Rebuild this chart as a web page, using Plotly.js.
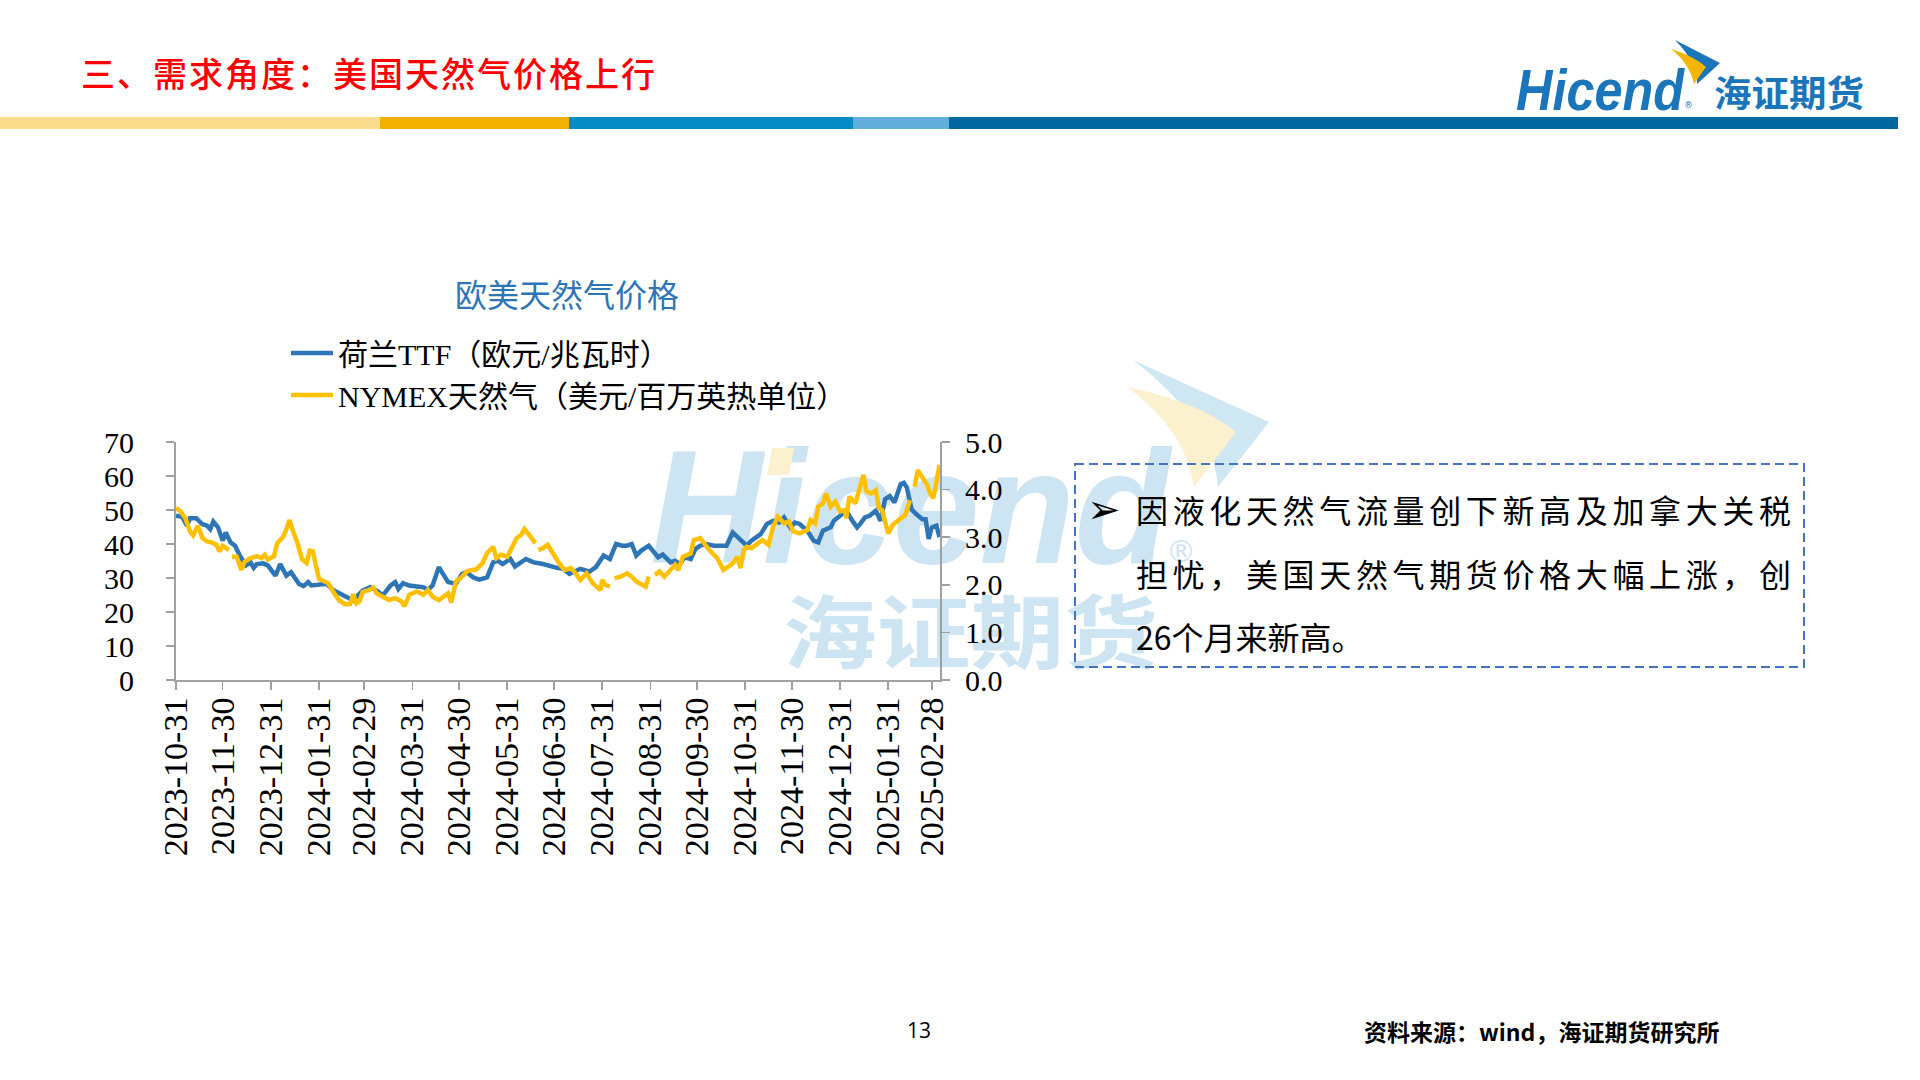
<!DOCTYPE html>
<html>
<head>
<meta charset="utf-8">
<script src="https://cdn.plot.ly/plotly-3.0.1.min.js"></script>
<style>
  html, body { margin:0; padding:0; background:#fff; }
  #page { position:relative; width:1920px; height:1080px; overflow:hidden; background:#fff; }
  #chart { position:absolute; left:0; top:0; width:1920px; height:1080px; z-index:1; }
  #wm { position:absolute; left:0; top:0; z-index:0; }
  #over { position:absolute; left:0; top:0; z-index:2; }
  .txt { position:absolute; z-index:3; font-family:"Noto Sans CJK SC", sans-serif; color:#000; white-space:nowrap; line-height:1; }
  .just { text-align:justify; text-align-last:justify; white-space:normal; }
</style>
</head>
<body>
<div id="page">
  <!-- watermark (behind chart) -->
  <svg id="wm" width="1920" height="1080">
    <path d="M1133,360 L1269,422 L1218,487 Q1212,420 1133,360 Z" fill="#CFE6F3"/>
    <path d="M1127,387 Q1200,402 1236,432 L1194,487 Q1186,430 1127,387 Z" fill="#FCF1CF"/>
    <text x="650" y="563" font-family="Liberation Sans" font-weight="bold" font-style="italic" font-size="162" fill="#CDE5F2" textLength="520" lengthAdjust="spacingAndGlyphs">Hicend</text>
    <path d="M772,448 L794,448 L789,475 L767,475 Z" fill="#FCF1CF"/>
    <text x="1166" y="562" font-family="DejaVu Sans" font-size="30" fill="#CDE5F2">®</text>
    <text x="783" y="662" font-family="Noto Sans CJK SC" font-weight="bold" font-size="80" fill="#CDE5F2" textLength="375" lengthAdjust="spacingAndGlyphs">海证期货</text>
  </svg>

  <div id="chart"></div>

  <!-- header, logo, text box (above chart) -->
  <svg id="over" width="1920" height="1080">
    <rect x="0" y="117" width="380" height="12" fill="#F8DC8C"/>
    <rect x="380" y="117" width="189" height="12" fill="#F2B000"/>
    <rect x="569" y="117" width="284" height="12" fill="#078BC6"/>
    <rect x="853" y="117" width="96" height="12" fill="#62AEDC"/>
    <rect x="949" y="117" width="949" height="12" fill="#02689F"/>
    <path d="M1675,40 L1720,63 L1697,84 Q1697,62 1675,40 Z" fill="#1A75BB"/>
    <path d="M1671,49 Q1694,56 1706,67 L1694,84 Q1690,64 1671,49 Z" fill="#F5B400"/>
    <text x="1516" y="110" font-family="Liberation Sans" font-weight="bold" font-style="italic" font-size="58" fill="#1A75BB" textLength="168" lengthAdjust="spacingAndGlyphs">Hicend</text>
    <text x="1684" y="108" font-family="DejaVu Sans" font-size="9" fill="#1A75BB">®</text>
    <text x="1714" y="107" font-family="Noto Sans CJK SC" font-weight="bold" font-size="36" fill="#1A75BB" textLength="150" lengthAdjust="spacingAndGlyphs">海证期货</text>
    <rect x="1075" y="464" width="729" height="203" fill="none" stroke="#4472C4" stroke-width="2" stroke-dasharray="9,5"/>
  </svg>

  <div class="txt" style="left:81px;top:56px;font-size:34px;letter-spacing:2px;color:#FF0000;font-weight:500;">三、需求角度：美国天然气价格上行</div>

  <div class="txt" style="left:1087px;top:489px;font-size:40px;font-family:'DejaVu Sans';">➢</div>
  <div class="txt just" style="left:1136px;top:493px;width:655px;font-size:32px;">因液化天然气流量创下新高及加拿大关税</div>
  <div class="txt just" style="left:1136px;top:557px;width:655px;font-size:32px;">担忧，美国天然气期货价格大幅上涨，创</div>
  <div class="txt" style="left:1136px;top:620px;font-size:32px;">26个月来新高。</div>

  <div class="txt" style="left:907px;top:1020px;font-size:21px;font-family:'Open Sans';">13</div>
  <div class="txt" style="left:1364px;top:1020px;font-size:23px;font-weight:bold;">资料来源：wind，海证期货研究所</div>
</div>

<script>
// ---- data ----
const chartTitle = '欧美天然气价格';
const ttfName = '荷兰TTF（欧元/兆瓦时）';
const nymexName = 'NYMEX天然气（美元/百万英热单位）';

const tickDates = ['2023-10-31','2023-11-30','2023-12-31','2024-01-31','2024-02-29','2024-03-31','2024-04-30','2024-05-31','2024-06-30','2024-07-31','2024-08-31','2024-09-30','2024-10-31','2024-11-30','2024-12-31','2025-01-31','2025-02-28'];
const tickLabels = ['2023-10-31','2023-11-30','2023-12-31','2024-01-31','2024-02-29','2024-03-31','2024-04-30','2024-05-31','2024-06-30','2024-07-31','2024-08-31','2024-09-30','2024-10-31','2024-11-30','2024-12-31','2025-01-31','2025-02-28'];

const ttfDates = ['2023-10-31','2023-11-04','2023-11-07','2023-11-09','2023-11-13','2023-11-17','2023-11-20','2023-11-22','2023-11-24','2023-11-27','2023-11-30','2023-12-02','2023-12-05','2023-12-08','2023-12-11','2023-12-15','2023-12-18','2023-12-20','2023-12-22','2023-12-26','2023-12-29','2024-01-03','2024-01-06','2024-01-10','2024-01-13','2024-01-18','2024-01-21','2024-01-24','2024-01-26','2024-02-01','2024-02-05','2024-02-09','2024-02-15','2024-02-19','2024-02-22','2024-02-25','2024-02-28','2024-03-04','2024-03-08','2024-03-12','2024-03-17','2024-03-20','2024-03-22','2024-03-25','2024-03-29','2024-04-03','2024-04-07','2024-04-10','2024-04-13','2024-04-17','2024-04-20','2024-04-23','2024-04-28','2024-05-02','2024-05-05','2024-05-09','2024-05-13','2024-05-18','2024-05-22','2024-05-25','2024-05-28','2024-06-02','2024-06-05','2024-06-12','2024-06-17','2024-06-23','2024-07-02','2024-07-06','2024-07-10','2024-07-17','2024-07-23','2024-07-27','2024-08-01','2024-08-05','2024-08-09','2024-08-13','2024-08-16','2024-08-19','2024-08-22','2024-08-25','2024-08-30','2024-09-02','2024-09-05','2024-09-08','2024-09-13','2024-09-16','2024-09-19','2024-09-22','2024-09-26','2024-09-29','2024-10-02','2024-10-06','2024-10-11','2024-10-15','2024-10-19','2024-10-23','2024-10-28','2024-11-01','2024-11-04','2024-11-10','2024-11-14','2024-11-18','2024-11-22','2024-11-25','2024-11-29','2024-12-02','2024-12-05','2024-12-10','2024-12-14','2024-12-17','2024-12-20','2024-12-25','2024-12-27','2024-12-31','2025-01-04','2025-01-08','2025-01-11','2025-01-13','2025-01-16','2025-01-19','2025-01-23','2025-01-26','2025-01-29','2025-02-01','2025-02-04','2025-02-08','2025-02-10','2025-02-12','2025-02-15','2025-02-18','2025-02-22','2025-02-24','2025-02-26','2025-02-28','2025-03-03','2025-03-05'];
const ttfValues = [48.3,48.0,45.4,47.6,47.6,45.8,45.4,44.4,46.6,44.9,41.0,43.4,40.5,39.5,36.6,33.7,34.6,33.0,34.1,34.3,33.7,30.7,34.1,30.7,31.7,28.3,27.6,28.8,27.8,28.3,28.3,26.5,24.9,23.9,23.4,24.9,26.3,27.3,26.3,24.9,27.8,28.8,26.8,28.5,27.8,27.5,27.3,26.5,27.8,33.2,31.2,28.8,28.3,31.2,31.7,30.2,29.5,30.2,34.6,35.1,34.1,35.6,33.4,35.6,34.6,34.1,33.0,32.7,31.2,32.7,31.9,33.2,36.6,35.6,40.0,39.5,39.5,40.0,36.6,38.0,39.5,38.0,36.1,36.9,34.6,35.1,34.1,36.1,35.6,38.5,39.5,40.0,39.5,39.5,39.5,43.4,41.0,39.5,41.0,42.9,45.9,46.8,46.3,47.8,44.9,46.3,45.9,43.9,41.0,40.5,43.9,44.9,46.8,48.3,49.8,46.8,44.9,45.9,47.8,48.3,49.8,46.8,53.2,54.1,52.2,57.6,58.0,56.6,50.2,48.8,47.3,47.3,41.5,44.9,45.4,42.0];

const nymexDates = ['2023-10-31','2023-11-03','2023-11-06','2023-11-09','2023-11-11','2023-11-14','2023-11-17','2023-11-20','2023-11-23','2023-11-26','2023-11-28','2023-11-30','2023-12-04','2023-12-05','2023-12-06','2023-12-09','2023-12-12','2023-12-14','2023-12-18','2023-12-22','2023-12-25','2023-12-27','2023-12-29','2024-01-02','2024-01-04','2024-01-06','2024-01-08','2024-01-10','2024-01-12','2024-01-14','2024-01-17','2024-01-20','2024-01-23','2024-01-25','2024-01-27','2024-01-29','2024-01-31','2024-02-03','2024-02-06','2024-02-09','2024-02-13','2024-02-17','2024-02-20','2024-02-22','2024-02-24','2024-02-26','2024-02-28','2024-03-03','2024-03-06','2024-03-08','2024-03-12','2024-03-16','2024-03-20','2024-03-24','2024-03-26','2024-03-29','2024-04-03','2024-04-07','2024-04-10','2024-04-13','2024-04-17','2024-04-20','2024-04-23','2024-04-25','2024-04-28','2024-05-02','2024-05-05','2024-05-08','2024-05-11','2024-05-15','2024-05-18','2024-05-20','2024-05-22','2024-05-24','2024-05-27','2024-05-31','2024-06-03','2024-06-06','2024-06-09','2024-06-11','2024-06-15','2024-06-18','2024-06-19','2024-06-20','2024-06-23','2024-06-26','2024-06-30','2024-07-04','2024-07-07','2024-07-11','2024-07-13','2024-07-17','2024-07-21','2024-07-25','2024-07-30','2024-07-31','2024-08-02','2024-08-05','2024-08-06','2024-08-08','2024-08-12','2024-08-16','2024-08-19','2024-08-22','2024-08-26','2024-08-28','2024-08-30','2024-09-01','2024-09-03','2024-09-06','2024-09-09','2024-09-13','2024-09-16','2024-09-18','2024-09-21','2024-09-26','2024-09-28','2024-10-02','2024-10-05','2024-10-08','2024-10-13','2024-10-17','2024-10-20','2024-10-23','2024-10-26','2024-10-28','2024-10-30','2024-11-01','2024-11-04','2024-11-07','2024-11-11','2024-11-15','2024-11-18','2024-11-21','2024-11-25','2024-11-28','2024-12-01','2024-12-05','2024-12-10','2024-12-12','2024-12-15','2024-12-17','2024-12-20','2024-12-22','2024-12-25','2024-12-28','2024-12-31','2025-01-03','2025-01-04','2025-01-06','2025-01-10','2025-01-12','2025-01-15','2025-01-17','2025-01-20','2025-01-23','2025-01-25','2025-01-27','2025-01-29','2025-01-31','2025-02-03','2025-02-07','2025-02-11','2025-02-14','2025-02-15','2025-02-17','2025-02-19','2025-02-23','2025-02-25','2025-02-27','2025-03-01','2025-03-03','2025-03-05'];
const nymexValues = [3.62,3.54,3.40,3.12,3.04,3.24,2.98,2.91,2.89,2.84,2.70,2.82,2.73,null,2.59,2.59,2.31,2.48,2.56,2.60,2.56,2.63,2.53,2.60,2.87,2.94,3.01,3.17,3.36,3.15,2.89,2.54,2.46,2.72,2.70,2.40,2.12,2.08,2.03,1.86,1.67,1.59,1.60,1.80,1.61,1.65,1.85,1.89,1.94,1.82,1.75,1.68,1.72,1.65,1.55,1.79,1.86,1.79,1.89,1.75,1.68,1.75,1.82,1.63,2.07,2.17,2.28,2.31,2.32,2.45,2.66,2.73,2.80,2.56,2.63,2.59,2.80,2.98,3.05,3.17,3.01,2.87,null,2.73,2.77,2.84,2.63,2.42,2.31,2.35,2.28,2.10,2.24,2.03,1.89,2.10,2.00,1.96,null,2.14,2.17,2.24,2.17,2.07,2.00,1.96,2.17,null,2.21,2.28,2.17,2.31,2.42,2.31,2.59,2.66,2.94,2.98,2.84,2.73,2.56,2.31,2.38,2.45,2.59,2.35,2.73,2.80,2.77,2.84,2.94,2.84,3.22,3.43,3.29,3.33,3.12,3.08,3.15,3.36,3.29,3.64,3.71,3.92,3.64,3.75,3.54,3.57,3.40,3.85,3.71,3.96,4.31,3.96,3.92,3.99,3.61,3.57,3.29,3.08,3.26,3.36,3.47,3.78,null,4.06,4.41,4.20,4.10,3.92,3.82,4.17,4.52];

const serif = 'Liberation Serif, Noto Sans CJK SC, serif';
const axisGrey = '#A0A0A0';

const traces = [
  { x: ttfDates, y: ttfValues, name: ttfName, type: 'scatter', mode: 'lines', yaxis: 'y',
    line: { color: '#2E75B6', width: 4.5 } },
  { x: nymexDates, y: nymexValues, name: nymexName, type: 'scatter', mode: 'lines', yaxis: 'y2',
    connectgaps: false, line: { color: '#FFC000', width: 4.5 } }
];

const layout = {
  width: 1920, height: 1080,
  margin: { l: 176, r: 980, t: 442, b: 400, pad: 0, autoexpand: false },
  paper_bgcolor: 'rgba(0,0,0,0)', plot_bgcolor: 'rgba(0,0,0,0)',
  title: { text: chartTitle, xref: 'container', yref: 'container', x: 567/1920, y: 1 - 296/1080,
           xanchor: 'center', yanchor: 'middle',
           font: { family: 'Noto Sans CJK SC', size: 32, color: '#2E75B6' } },
  showlegend: true,
  legend: { xref: 'container', yref: 'container', x: 286/1920, y: 1 - 327/1080,
            xanchor: 'left', yanchor: 'top', orientation: 'v', bgcolor: 'rgba(0,0,0,0)',
            itemwidth: 42,
            font: { family: serif, size: 30, color: '#000' }, tracegroupgap: 0 },
  xaxis: { type: 'date', range: ['2023-10-31', '2025-03-05 07:00'],
           tickmode: 'array', tickvals: tickDates, ticktext: tickLabels, tickangle: -90,
           ticks: 'outside', ticklen: 8, tickwidth: 1.5, tickcolor: axisGrey,
           showline: true, linecolor: axisGrey, linewidth: 2, showgrid: false, zeroline: false,
           ticklabelstandoff: -6, automargin: false,
           tickfont: { family: serif, size: 34, color: '#000' } },
  yaxis: { range: [0, 70], dtick: 10, tick0: 0, ticks: 'outside', ticklen: 8, tickwidth: 1.5,
           tickcolor: axisGrey, showline: true, linecolor: axisGrey, linewidth: 2,
           showgrid: false, zeroline: false, ticklabelstandoff: 26, automargin: false,
           tickfont: { family: serif, size: 30, color: '#000' } },
  yaxis2: { range: [0, 5], dtick: 1, tick0: 0, tickformat: '.1f', overlaying: 'y', side: 'right',
            ticks: 'outside', ticklen: 8, tickwidth: 1.5, tickcolor: axisGrey,
            showline: true, linecolor: axisGrey, linewidth: 2, showgrid: false, zeroline: false,
            ticklabelstandoff: 9, automargin: false,
            tickfont: { family: serif, size: 30, color: '#000' } }
};

Plotly.newPlot('chart', traces, layout, { displayModeBar: false, staticPlot: true });
</script>
</body>
</html>
